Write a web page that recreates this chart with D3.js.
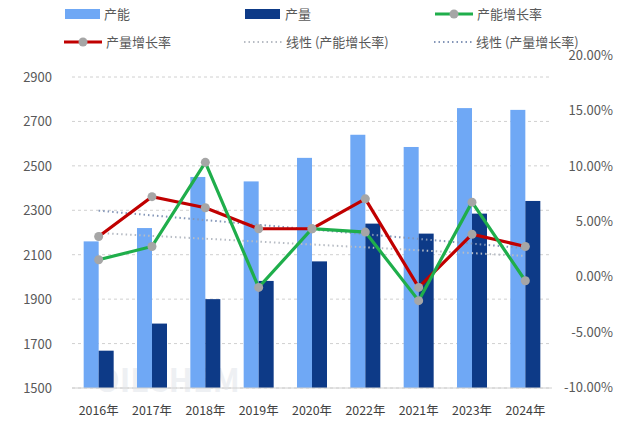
<!DOCTYPE html><html><head><meta charset="utf-8"><script src="https://d3js.org/d3.v7.min.js"></script>
<style>body{margin:0;background:#fff}text{font-family:"Noto Sans CJK SC","Noto Sans",sans-serif}</style></head><body><svg id="c" width="631" height="431"></svg><script>
const categories=["2016年","2017年","2018年","2019年","2020年","2022年","2021年","2023年","2024年"];
const capacity=[2160,2220,2450,2430,2536,2640,2585,2760,2752];
const production=[1668,1790,1900,1982,2070,2240,2195,2285,2342];
const capGrowth=[1.5,2.7,10.3,-1.0,4.3,4.0,-2.2,6.7,-0.4];
const prodGrowth=[3.6,7.2,6.2,4.3,4.3,7.0,-1.0,3.8,2.7];
const leftTicks=[1500,1700,1900,2100,2300,2500,2700,2900];
const rightTicks=[-10,-5,0,5,10,15,20];
const svg=d3.select("#c");
const x=d3.scaleBand().domain(categories).range([72,552]);
const yL=d3.scaleLinear().domain([1500,2900]).range([388,77]);
const yR=d3.scaleLinear().domain([-10,20]).range([387,55]);
svg.append("g").selectAll("line").data(leftTicks).join("line").attr("x1",72).attr("x2",552)
 .attr("y1",d=>yL(d)).attr("y2",d=>yL(d)).attr("stroke","#d0d0d0").attr("stroke-dasharray","3,3");
svg.append("g").selectAll("text").data(leftTicks).join("text").attr("x",52).attr("y",d=>yL(d)+5)
 .attr("text-anchor","end").attr("font-size",13).attr("fill","#595959").text(d=>d);
svg.append("g").selectAll("text").data(rightTicks).join("text").attr("x",613).attr("y",d=>yR(d)+5)
 .attr("text-anchor","end").attr("font-size",13).attr("fill","#595959").text(d=>d.toFixed(2)+"%");
svg.append("text").attr("x",95).attr("y",392).attr("font-size",32).attr("font-weight","bold").attr("fill","#eef0f3").text("OILCHEM");
const bw=15;
svg.append("g").selectAll("rect").data(capacity).join("rect").attr("x",(d,i)=>x(categories[i])+x.bandwidth()/2-bw)
 .attr("width",bw).attr("y",d=>yL(d)).attr("height",d=>388-yL(d)).attr("fill","#6fa8f5");
svg.append("g").selectAll("rect").data(production).join("rect").attr("x",(d,i)=>x(categories[i])+x.bandwidth()/2)
 .attr("width",bw).attr("y",d=>yL(d)).attr("height",d=>388-yL(d)).attr("fill","#0d3a87");
svg.append("line").attr("x1",72).attr("x2",552).attr("y1",388).attr("y2",388).attr("stroke","#d0d0d0");
svg.selectAll(".xl").data(categories).join("text").attr("x",d=>x(d)+x.bandwidth()/2).attr("y",415)
 .attr("text-anchor","middle").attr("font-size",12.4).attr("fill","#404040").text(d=>d);
const cx=i=>x(categories[i])+x.bandwidth()/2;
function trend(v){const n=v.length,mx=(n-1)/2,my=d3.mean(v);let a=0,b=0;v.forEach((y,i)=>{a+=(i-mx)*(y-my);b+=(i-mx)**2});const s=a/b;return [my-s*mx,my+s*(n-1-mx)];}
[[capGrowth,"#b7bcc4"],[prodGrowth,"#8496b8"]].forEach(([v,c])=>{const t=trend(v);
 svg.append("line").attr("x1",cx(0)).attr("x2",cx(8)).attr("y1",yR(t[0])).attr("y2",yR(t[1])).attr("stroke",c).attr("stroke-width",2).attr("stroke-dasharray","1.5,3");});
const line=d3.line().x((d,i)=>cx(i)).y(d=>yR(d));
[[prodGrowth,"#c00000"],[capGrowth,"#1fae4b"]].forEach(([v,c])=>{
 svg.append("path").attr("d",line(v)).attr("fill","none").attr("stroke",c).attr("stroke-width",3.2);
 svg.append("g").selectAll("circle").data(v).join("circle").attr("cx",(d,i)=>cx(i)).attr("cy",d=>yR(d)).attr("r",4.5).attr("fill","#a6a6a6");});
const lg=svg.append("g").attr("font-size",13).attr("fill","#595959");
lg.append("rect").attr("x",65).attr("y",9).attr("width",35).attr("height",10).attr("fill","#6fa8f5");
lg.append("text").attr("x",104).attr("y",19).text("产能");
lg.append("rect").attr("x",245).attr("y",9).attr("width",35).attr("height",10).attr("fill","#0d3a87");
lg.append("text").attr("x",285).attr("y",19).text("产量");
function ll(x0,y,c,dash,mk,label){lg.append("line").attr("x1",x0).attr("x2",x0+38).attr("y1",y).attr("y2",y).attr("stroke",c).attr("stroke-width",dash?2:3).attr("stroke-dasharray",dash?"1.5,3":null);
 if(mk)lg.append("circle").attr("cx",x0+19).attr("cy",y).attr("r",4.5).attr("fill","#a6a6a6");
 lg.append("text").attr("x",x0+42).attr("y",y+5).text(label);}
ll(435,14,"#1fae4b",false,true,"产能增长率");
ll(64,42,"#c00000",false,true,"产量增长率");
ll(244,42,"#b7bcc4",true,false,"线性 (产能增长率)");
ll(434,42,"#8496b8",true,false,"线性 (产量增长率)");
</script></body></html>
